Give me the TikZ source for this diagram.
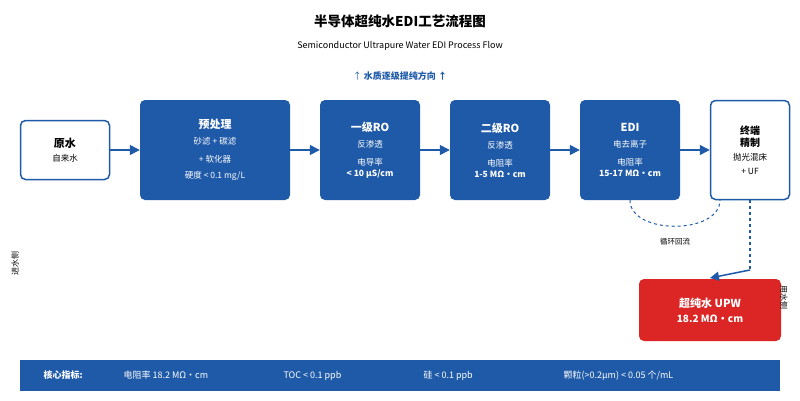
\documentclass[tikz,border=0pt]{standalone}
\usepackage{fontspec}
\setmainfont{Noto Sans CJK SC}
\usetikzlibrary{arrows.meta}
\definecolor{bl}{HTML}{1F5AA8}
\definecolor{rd}{HTML}{DC2626}
\newcommand{\fA}{\fontsize{11}{14}\selectfont\bfseries}
\newcommand{\fB}{\fontsize{8.5}{11}\selectfont}
\begin{document}
\begin{tikzpicture}[x=1pt,y=-1pt,
 bbox/.style={fill=bl,rounded corners=5pt,text=white,align=center},
 wbox/.style={draw=bl,line width=1.5pt,fill=white,rounded corners=5pt,align=center},
 arr/.style={-{Triangle[length=10pt,width=10pt]},draw=bl,line width=1.5pt}]
\useasboundingbox (0,0) rectangle (800,400);
\node (title) at (400,21) {\fontsize{13.5}{16}\selectfont\bfseries 半导体超纯水EDI工艺流程图};
\node (sub) at (400,46) {\fontsize{9}{11}\selectfont Semiconductor Ultrapure Water EDI Process Flow};
\node (dir) at (400,76) [text=bl] {\fontsize{9}{11}\selectfont ↑ \bfseries 水质逐级提纯方向 ↑};
\node[wbox,minimum width=89pt,minimum height=59pt] (raw) at (65,150) {\fA 原水\\[2pt]\fB 自来水};
\node[bbox,minimum width=150pt,minimum height=100pt] (pre) at (215,150) {\fA 预处理\\[4pt]\fB 砂滤 + 碳滤\\[6pt]\fB + 软化器\\[4pt]\fB 硬度 < 0.1 mg/L};
\node[bbox,minimum width=100pt,minimum height=100pt] (ro1) at (370,150) {\fA 一级RO\\[4pt]\fB 反渗透\\[6pt]\fB 电导率\\[-1pt]\fB\bfseries < 10 μS/cm};
\node[bbox,minimum width=100pt,minimum height=100pt] (ro2) at (500,150) {\fA 二级RO\\[4pt]\fB 反渗透\\[6pt]\fB 电阻率\\[-1pt]\fB\bfseries 1-5 MΩ·cm};
\node[bbox,minimum width=100pt,minimum height=100pt] (edi) at (630,150) {\fA EDI\\[4pt]\fB 电去离子\\[6pt]\fB 电阻率\\[-1pt]\fB\bfseries 15-17 MΩ·cm};
\node[wbox,minimum width=79pt,minimum height=99pt] (fin) at (750,150) {\fontsize{10}{15}\selectfont\bfseries 终端\\\fontsize{10}{15}\selectfont\bfseries 精制\\[2pt]\fB 抛光混床\\[2pt]\fB + UF};
\node[fill=rd,rounded corners=5pt,text=white,align=center,minimum width=142pt,minimum height=62pt] (upw) at (710,310) {\fA 超纯水 UPW\\[3pt]\fontsize{10}{12}\selectfont\bfseries 18.2 MΩ·cm};
\draw[arr] (raw) -- (pre);
\draw[arr] (pre) -- (ro1);
\draw[arr] (ro1) -- (ro2);
\draw[arr] (ro2) -- (edi);
\draw[arr] (edi) -- (fin);
\coordinate (r1) at (720,200);
\draw[bl,dashed,line width=1pt] (edi.south) .. controls (630,235) and (720,235) .. (r1);
\node[font=\fontsize{7.5}{9}\selectfont] (rec) at (675,242) {循环回流};
\coordinate (c1) at (750,270);
\draw[bl,dashed,line width=1.3pt] (fin.south) -- (c1);
\draw[bl,line width=1.5pt,-{Triangle[length=9pt,width=9pt]}] (c1) -- (710,278);
\node[rotate=90,font=\fontsize{8}{10}\selectfont] (in) at (15,263) {进水侧};
\node[rotate=-90,font=\fontsize{8}{10}\selectfont] (out) at (784,297) {用水侧};
\node[fill=bl,minimum width=760pt,minimum height=31pt] (bar) at (400,375.5) {};
\begin{scope}[text=white,font=\fontsize{9}{11}\selectfont]
\node[anchor=west] (k0) at (40,375.5) {\bfseries 核心指标:};
\node[anchor=west] (k1) at (120,375.5) {电阻率 18.2 MΩ·cm};
\node[anchor=west] (k2) at (280,375.5) {TOC < 0.1 ppb};
\node[anchor=west] (k3) at (420,375.5) {硅 < 0.1 ppb};
\node[anchor=west] (k4) at (560,375.5) {颗粒(>0.2μm) < 0.05 个/mL};
\end{scope}
\end{tikzpicture}
\end{document}
